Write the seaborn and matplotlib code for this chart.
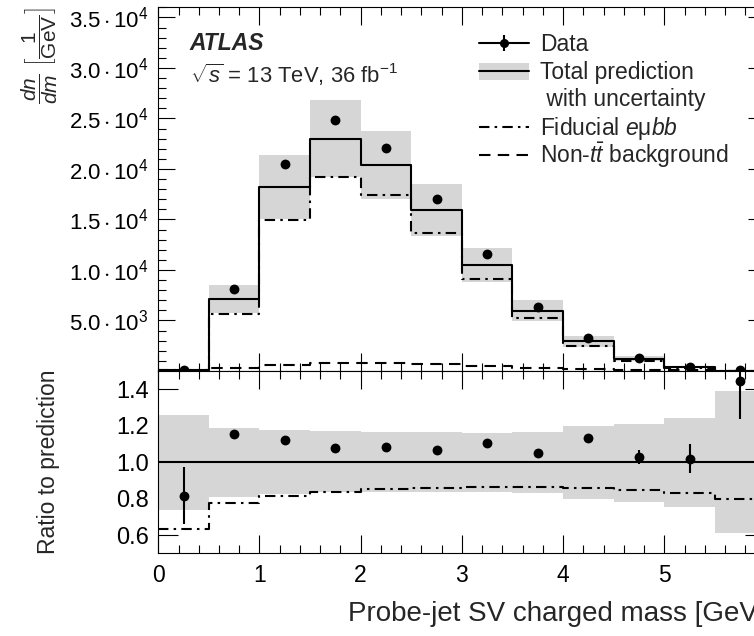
import matplotlib
matplotlib.use("Agg")
import matplotlib.pyplot as plt
import seaborn as sns
import numpy as np
from matplotlib.lines import Line2D
from matplotlib.patches import Patch
from matplotlib.legend import Legend
from matplotlib.legend_handler import HandlerTuple
from matplotlib.ticker import MultipleLocator, FixedLocator, FixedFormatter, NullLocator

# ---------------- data ----------------
bin_edges = [0.0, 0.5, 1.0, 1.5, 2.0, 2.5, 3.0, 3.5, 4.0, 4.5, 5.0, 5.5, 6.0]
bin_centers = [0.25, 0.75, 1.25, 1.75, 2.25, 2.75, 3.25, 3.75, 4.25, 4.75, 5.25, 5.75]

total_pred = [120, 7140, 18250, 22930, 20400, 15920, 10490, 5985, 2925, 1215, 395, 40]
data_vals = [100, 8125, 20460, 24810, 22110, 17010, 11580, 6315, 3255, 1280, 405, 58]
fiducial = [76, 5600, 14950, 19250, 17380, 13630, 9090, 5200, 2520, 1030, 328, 32]
non_tt_bkg = [30, 300, 620, 790, 790, 690, 450, 325, 200, 100, 50, 20]

ratio_band_hi = [1.258, 1.188, 1.174, 1.170, 1.166, 1.163, 1.161, 1.168, 1.198, 1.212, 1.242, 1.389]
ratio_band_lo = [0.738, 0.808, 0.826, 0.839, 0.834, 0.839, 0.839, 0.830, 0.799, 0.780, 0.754, 0.609]
ratio_data = [0.815, 1.152, 1.124, 1.080, 1.084, 1.069, 1.106, 1.051, 1.131, 1.029, 1.019, 1.446]
ratio_data_err = [0.156, 0.010, 0.006, 0.005, 0.005, 0.006, 0.007, 0.010, 0.015, 0.040, 0.080, 0.210]
ratio_fiducial = [0.633, 0.778, 0.817, 0.837, 0.854, 0.856, 0.865, 0.863, 0.859, 0.848, 0.830, 0.799]

top_ytick_vals = [5000, 10000, 15000, 20000, 25000, 30000, 35000]
top_ytick_labels = [r"$5.0\cdot10^{3}$", r"$1.0\cdot10^{4}$", r"$1.5\cdot10^{4}$",
                    r"$2.0\cdot10^{4}$", r"$2.5\cdot10^{4}$", r"$3.0\cdot10^{4}$",
                    r"$3.5\cdot10^{4}$"]
ratio_ytick_vals = [0.6, 0.8, 1.0, 1.2, 1.4]
ratio_ytick_labels = ["0.6", "0.8", "1.0", "1.2", "1.4"]

legend_labels = ["Data", "Total prediction", " with uncertainty", r"Fiducial $e$μ$bb$",
                 r"Non-$t\bar{t}$ background"]
legend_rows_y = [0.8965, 0.8195, 0.7455, 0.6655, 0.5935]

# ---------------- style ----------------
sns.set_theme(style="ticks")
plt.rcParams.update({
    "font.family": ["Liberation Sans", "DejaVu Sans"],
    "mathtext.fontset": "custom",
    "mathtext.rm": "Liberation Sans",
    "mathtext.it": "Liberation Sans:italic",
    "mathtext.bf": "Liberation Sans:bold",
    "mathtext.sf": "Liberation Sans",
    "axes.edgecolor": "black",
    "axes.linewidth": 0.8,
    "xtick.color": "black",
    "ytick.color": "black",
    "font.size": 16,
})

GREY = "#d6d6d6"
DASHDOT = (0, (5.0, 2.5, 1.2, 2.5))
DASHED = (0, (5.5, 3.5))
LW = 1.5
MS = 50

fig = plt.figure(figsize=(7.54, 6.36), dpi=100)
ax = fig.add_axes([0.2099, 0.41667, 0.8053, 0.57186])
axr = fig.add_axes([0.2099, 0.13003, 0.8053, 0.28664], sharex=ax)


def ext(v):
    return list(v) + [v[-1]]


# ---------------- top panel ----------------
band_hi = [p * h for p, h in zip(total_pred, ratio_band_hi)]
band_lo = [p * l for p, l in zip(total_pred, ratio_band_lo)]
ax.fill_between(bin_edges, ext(band_lo), ext(band_hi), step="post", color=GREY, lw=0, zorder=1)
sns.lineplot(x=bin_edges, y=ext(total_pred), drawstyle="steps-post", color="black", lw=LW,
             sort=False, estimator=None, legend=False, ax=ax, zorder=3)
sns.lineplot(x=bin_edges, y=ext(fiducial), drawstyle="steps-post", color="black", lw=LW,
             linestyle=DASHDOT, sort=False, estimator=None, legend=False, ax=ax, zorder=2)
sns.lineplot(x=bin_edges, y=ext(non_tt_bkg), drawstyle="steps-post", color="black", lw=LW,
             linestyle=DASHED, sort=False, estimator=None, legend=False, ax=ax, zorder=2)
sns.scatterplot(x=bin_centers, y=data_vals, color="black", s=MS, linewidth=0, ax=ax,
                zorder=5, legend=False)

ax.set_xlim(0, 6)
ax.set_ylim(0, 36000)
ax.yaxis.set_major_locator(FixedLocator(top_ytick_vals))
ax.yaxis.set_major_formatter(FixedFormatter(top_ytick_labels))
ax.yaxis.set_minor_locator(MultipleLocator(1000))
ax.xaxis.set_major_locator(MultipleLocator(1))
ax.xaxis.set_minor_locator(MultipleLocator(0.2))
ax.tick_params(axis="both", which="both", direction="in", top=True, right=True,
               width=0.8, labelsize=16, pad=7)
ax.tick_params(axis="x", which="major", length=13)
ax.tick_params(axis="x", which="minor", length=5.8)
ax.tick_params(axis="y", which="major", length=12.5)
ax.tick_params(axis="y", which="minor", length=5.8)
ax.tick_params(axis="x", labelbottom=False)
ax.set_xlabel("")
ax.set_ylabel(r"$\dfrac{dn}{dm}\ \left[\dfrac{1}{\mathrm{GeV}}\right]$", fontsize=15, loc="top")
ax.yaxis.set_label_coords(-0.162, 1.0)

ax.text(0.052, 0.8826, "ATLAS", transform=ax.transAxes, fontsize=16.5, fontweight="bold",
        fontstyle="italic", va="baseline", ha="left")
ax.text(0.052, 0.793, r"$\sqrt{s}$ = 13 TeV, 36 fb$^{-1}$", transform=ax.transAxes,
        fontsize=15.8, va="baseline", ha="left")

# legend: one single-entry legend per row so that the rows sit where they do in the reference
h_data = (Line2D([], [], color="black", lw=LW, marker="o", ms=5.5),
          Line2D([], [], color="black", lw=0, marker="|", ms=11, mew=LW))
h_pred = (Patch(facecolor=GREY, edgecolor="none"), Line2D([], [], color="black", lw=LW))
h_blank = Line2D([], [], color="none", lw=0)
h_fid = Line2D([], [], color="black", lw=LW, linestyle=DASHDOT)
h_bkg = Line2D([], [], color="black", lw=LW, linestyle=DASHED)
handles = [h_data, h_pred, h_blank, h_fid, h_bkg]
for h, lab, yy in zip(handles, legend_labels, legend_rows_y):
    leg = Legend(ax, [h], [lab], handler_map={tuple: HandlerTuple(ndivide=1, pad=0)},
                 loc="center left", bbox_to_anchor=(0.528, yy), frameon=False,
                 fontsize=16.5, handlelength=2.18, handleheight=0.72, handletextpad=0.48,
                 borderpad=0, borderaxespad=0)
    ax.add_artist(leg)

# ---------------- ratio panel ----------------
axr.fill_between(bin_edges, ext(ratio_band_lo), ext(ratio_band_hi), step="post", color=GREY,
                 lw=0, zorder=1)
axr.axhline(1.0, color="black", lw=LW, zorder=3)
sns.lineplot(x=bin_edges, y=ext(ratio_fiducial), drawstyle="steps-post", color="black", lw=LW,
             linestyle=DASHDOT, sort=False, estimator=None, legend=False, ax=axr, zorder=2)
axr.errorbar(bin_centers, ratio_data, yerr=ratio_data_err, fmt="none", ecolor="black",
             elinewidth=LW, capsize=0, zorder=4)
sns.scatterplot(x=bin_centers, y=ratio_data, color="black", s=MS, linewidth=0, ax=axr,
                zorder=5, legend=False)

axr.set_ylim(0.5, 1.5)
axr.yaxis.set_major_locator(FixedLocator(ratio_ytick_vals))
axr.yaxis.set_major_formatter(FixedFormatter(ratio_ytick_labels))
axr.yaxis.set_minor_locator(NullLocator())
axr.xaxis.set_major_locator(MultipleLocator(1))
axr.xaxis.set_minor_locator(MultipleLocator(0.2))
axr.tick_params(axis="both", which="both", direction="in", top=True, right=True,
                width=0.8, labelsize=17, pad=7)
axr.tick_params(axis="x", which="major", length=13, pad=8, labelsize=16.5)
axr.tick_params(axis="x", which="minor", length=5.8)
axr.tick_params(axis="y", which="major", length=14.4)
axr.set_xlabel("Probe-jet SV charged mass [GeV]", fontsize=20, loc="right", labelpad=10)
axr.set_ylabel("Ratio to prediction", fontsize=16.5)
axr.yaxis.set_label_coords(-0.162, 0.5)

fig.savefig("out.png", dpi=100)
